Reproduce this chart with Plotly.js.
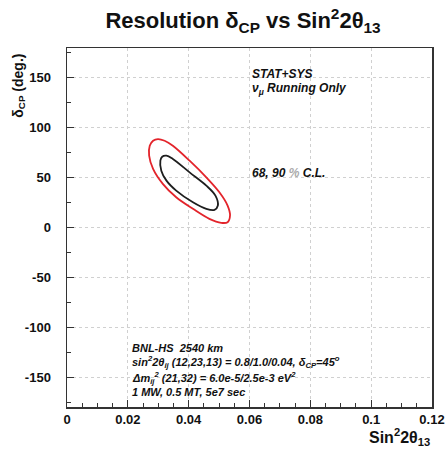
<!DOCTYPE html>
<html>
<head>
<meta charset="utf-8">
<script src="https://cdn.plot.ly/plotly-3.0.1.min.js"></script>
<style>
  html, body { margin: 0; padding: 0; background: #fff; }
  #resPlot { width: 446px; height: 449px; }
</style>
</head>
<body>
<div id="resPlot"></div>
<script>
// axis ticks
var xTicks = [0, 0.02, 0.04, 0.06, 0.08, 0.1, 0.12];
var xTickLabels = ["0", "0.02", "0.04", "0.06", "0.08", "0.1", "0.12"];
var yTicks = [-150, -100, -50, 0, 50, 100, 150];
var yTickLabels = ["-150", "-100", "-50", "0", "50", "100", "150"];

// 68% C.L. contour (black)
var cl68_x = [0.0307, 0.0313, 0.0327, 0.0348, 0.0403, 0.0458, 0.0488, 0.0496, 0.0485, 0.0458, 0.0414, 0.0359, 0.0327, 0.0310, 0.0307];
var cl68_y = [67, 71, 72, 68.7, 55.3, 42, 32, 22, 17.7, 18.7, 25.3, 37, 47, 57, 67];

// 90% C.L. contour (red)
var cl90_x = [0.0270, 0.0272, 0.0283, 0.0299, 0.0321, 0.0348, 0.0403, 0.0458, 0.0501, 0.0528, 0.0536, 0.0528, 0.0507, 0.0468, 0.0414, 0.0359, 0.0315, 0.0283, 0.0270];
var cl90_y = [72, 82, 87, 88.7, 87, 82, 67, 50.3, 35.3, 22, 12, 5.3, 4.7, 8.7, 18.7, 30.3, 43.7, 58.7, 72];

// info text
var topNotes = ["STAT+SYS", "\u03bd<sub>\u03bc</sub> Running Only"];
var clNote = "68, 90 <span style=\"color:#aaa\">%</span> C.L.";
var setupNotes = [
  "BNL-HS  2540 km",
  "sin<sup>2</sup>2\u03b8<sub>ij</sub> (12,23,13) = 0.8/1.0/0.04, \u03b4<sub>CP</sub>=45<sup>o</sup>",
  "\u0394m<sub>ij</sub><sup>2</sup> (21,32) = 6.0e-5/2.5e-3 eV<sup>2</sup>",
  "1 MW, 0.5 MT, 5e7 sec"
];

var cb_resPlot = function () {
  let fontFam = "Liberation Sans, Arial, Helvetica, sans-serif";

  let trace90 = {
    x: cl90_x,
    y: cl90_y,
    mode: "lines",
    line: { color: "#e3242b", width: 1.8, shape: "spline", smoothing: 1 },
    hoverinfo: "skip",
    showlegend: false,
  };

  let trace68 = {
    x: cl68_x,
    y: cl68_y,
    mode: "lines",
    line: { color: "#1e1e1e", width: 1.8, shape: "spline", smoothing: 1 },
    hoverinfo: "skip",
    showlegend: false,
  };

  let noteFont = { family: fontFam, size: 12, color: "#111", weight: "bold", style: "italic" };
  let smallFont = { family: fontFam, size: 11, color: "#111", weight: "bold", style: "italic" };

  let annotations = [];
  // upper right notes
  annotations.push({ x: 0.0603, y: 154, xref: "x", yref: "y", text: topNotes[0], showarrow: false, xanchor: "left", yanchor: "middle", font: noteFont });
  annotations.push({ x: 0.0603, y: 139, xref: "x", yref: "y", text: topNotes[1], showarrow: false, xanchor: "left", yanchor: "middle", font: noteFont });
  annotations.push({ x: 0.0603, y: 55, xref: "x", yref: "y", text: clNote, showarrow: false, xanchor: "left", yanchor: "middle", font: noteFont });

  // lower left setup block
  let setupY = [-121, -135, -151, -165];
  for (let i = 0; i < setupNotes.length; i++) {
    annotations.push({ x: 0.0206, y: setupY[i], xref: "x", yref: "y", text: setupNotes[i], showarrow: false, xanchor: "left", yanchor: "middle", font: smallFont });
  }

  // axis titles (ROOT style, at the ends of the axes)
  annotations.push({
    x: -0.134, y: 0.99, xref: "paper", yref: "paper",
    text: "\u03b4<sub>CP</sub> (deg.)", textangle: -90, showarrow: false,
    xanchor: "center", yanchor: "top",
    font: { family: fontFam, size: 14, color: "#111", weight: "bold" },
  });
  annotations.push({
    x: 1.0, y: -0.084, xref: "paper", yref: "paper",
    text: "Sin<sup>2</sup>2\u03b8<sub>13</sub>", showarrow: false,
    xanchor: "right", yanchor: "middle",
    font: { family: fontFam, size: 16, color: "#111", weight: "bold" },
  });

  let layout = {
    width: 446,
    height: 449,
    margin: { l: 67, r: 14, t: 48, b: 42, pad: 0 },
    paper_bgcolor: "#fff",
    plot_bgcolor: "#fff",
    showlegend: false,
    title: {
      text: "Resolution \u03b4<sub>CP</sub> vs Sin<sup>2</sup>2\u03b8<sub>13</sub>",
      x: 0.545,
      xref: "container",
      xanchor: "center",
      y: 0.955,
      yref: "container",
      yanchor: "middle",
      font: { family: fontFam, size: 22, color: "#111", weight: "bold" },
    },
    xaxis: {
      range: [0, 0.12],
      tickvals: xTicks,
      ticktext: xTickLabels,
      ticks: "inside",
      ticklen: 7,
      tickcolor: "#333",
      showgrid: true,
      gridcolor: "#d0d0d0",
      griddash: "dot",
      gridwidth: 1,
      zeroline: false,
      showline: true,
      linecolor: "#333",
      linewidth: 1.5,
      mirror: true,
      tickfont: { family: fontFam, size: 13, color: "#111", weight: "bold" },
      minor: { dtick: 0.005, ticks: "inside", ticklen: 4, tickcolor: "#333", showgrid: false },
      fixedrange: true,
    },
    yaxis: {
      range: [-180, 180],
      tickvals: yTicks,
      ticktext: yTickLabels,
      ticks: "inside",
      ticklen: 7,
      tickcolor: "#333",
      showgrid: true,
      gridcolor: "#d0d0d0",
      griddash: "dot",
      gridwidth: 1,
      zeroline: false,
      showline: true,
      linecolor: "#333",
      linewidth: 1.5,
      mirror: true,
      ticklabelstandoff: 12,
      tickfont: { family: fontFam, size: 13, color: "#111", weight: "bold" },
      minor: { dtick: 25, tick0: 0, ticks: "inside", ticklen: 4, tickcolor: "#333", showgrid: false },
      fixedrange: true,
    },
    annotations: annotations,
  };

  let config = { displayModeBar: false, staticPlot: true };

  Plotly.newPlot("resPlot", [trace90, trace68], layout, config);
};

if (document.readyState === "complete" || document.readyState === "interactive") {
  cb_resPlot();
} else {
  document.addEventListener("DOMContentLoaded", cb_resPlot);
}
</script>
</body>
</html>
